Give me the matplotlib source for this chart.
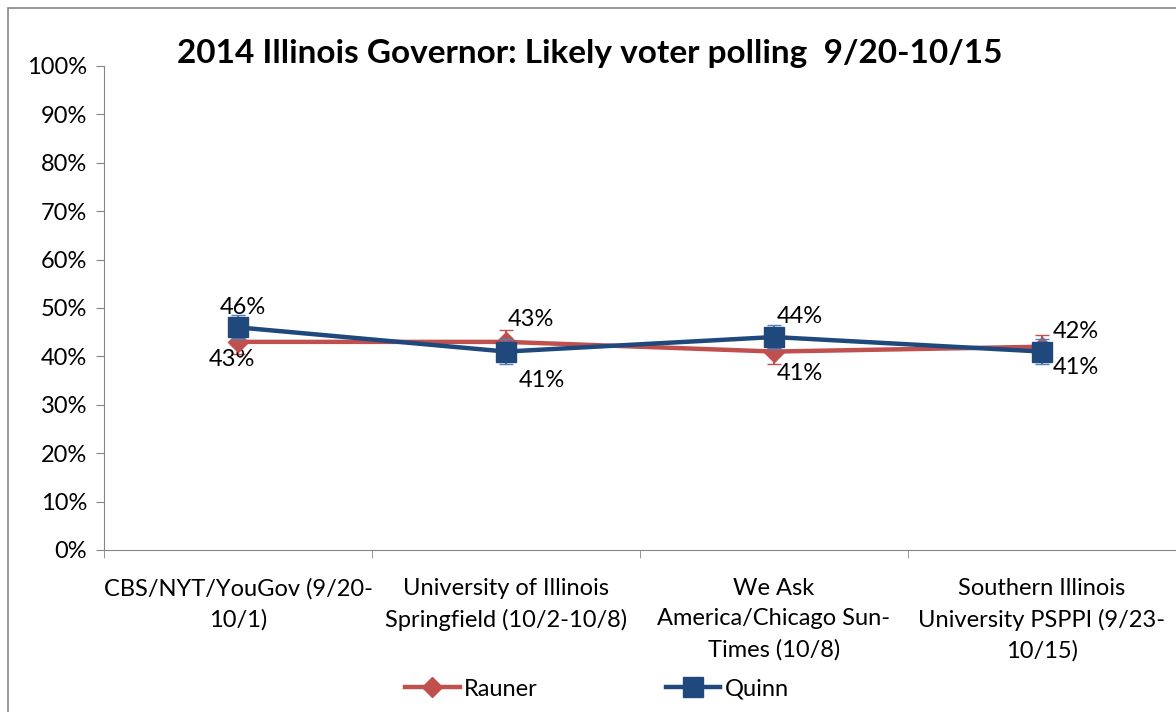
import numpy as np
import matplotlib.pyplot as plt
from matplotlib.patches import Rectangle
from matplotlib.lines import Line2D

polls = ['CBS/NYT/YouGov (9/20-\n10/1)',
         'University of Illinois\nSpringfield (10/2-10/8)',
         'We Ask\nAmerica/Chicago Sun-\nTimes (10/8)',
         'Southern Illinois\nUniversity PSPPI (9/23-\n10/15)']
rauner = [43, 43, 41, 42]
quinn = [46, 41, 44, 41]
err = 2.5

# label offsets in pixels (dx, dy)
r_off = [(-6, -18), (25, 22), (26, -22), (34, 15)]
q_off = [(5, 20), (36, -29), (26, 21), (34, -16)]

plt.rcParams['font.family'] = ['Lato', 'DejaVu Sans']
fs = 17

fig = plt.figure(figsize=(11.76, 7.12), dpi=100)
ax = fig.add_axes([104/1176, 1-550/712, 1-104/1176, 484/712])

x = np.arange(len(polls))
red = '#C0504D'
blue = '#1F497D'
ax.errorbar(x, rauner, yerr=err, color=red, lw=3.2, marker='D', ms=10,
            ecolor=red, elinewidth=1.5, capsize=5, zorder=3)
ax.errorbar(x, quinn, yerr=err, color=blue, lw=3.2, marker='s', ms=14,
            ecolor='#4F81BD', elinewidth=1.5, capsize=5, zorder=4)

for i in range(len(polls)):
    ax.annotate(f'{rauner[i]}%', (x[i], rauner[i]), xytext=r_off[i],
                textcoords='offset pixels', ha='center', va='center', fontsize=fs)
    ax.annotate(f'{quinn[i]}%', (x[i], quinn[i]), xytext=q_off[i],
                textcoords='offset pixels', ha='center', va='center', fontsize=fs)

ax.set_xlim(-0.5, 3.5)
ax.set_ylim(0, 100)
ax.set_yticks(np.arange(0, 101, 10))
ax.set_yticklabels([f'{v}%' for v in range(0, 101, 10)], fontsize=fs)
ax.set_xticks(x)
ax.set_xticklabels(polls, fontsize=fs, linespacing=1.55)
ax.tick_params(axis='x', length=0, pad=20)
ax.set_xticks(np.arange(-0.5, 3.6, 1), minor=True)
ax.tick_params(axis='x', which='minor', length=6, color='#868686')
ax.tick_params(axis='y', length=6, color='#868686', pad=6)
for s in ['top', 'right']:
    ax.spines[s].set_visible(False)
for s in ['left', 'bottom']:
    ax.spines[s].set_color('#868686')

fig.text(590/1176, 1-53/712, '2014 Illinois Governor: Likely voter polling  9/20-10/15',
         ha='center', va='center', fontsize=24, fontweight='bold')

handles = [Line2D([], [], color=red, lw=3.2, marker='D', ms=10),
           Line2D([], [], color=blue, lw=3.2, marker='s', ms=14)]
fig.legend(handles, ['Rauner', 'Quinn'], loc='center',
           bbox_to_anchor=(597/1176, 1-689/712), ncol=2, frameon=False,
           fontsize=fs, columnspacing=5.4, handlelength=2.3, handletextpad=0.2)

fig.patches.append(Rectangle((8/1176, -0.1), 1.2, 1-8/712+0.1, transform=fig.transFigure,
                             fill=False, edgecolor='#868686', lw=1.2))

fig.savefig('out.png', dpi=100)
